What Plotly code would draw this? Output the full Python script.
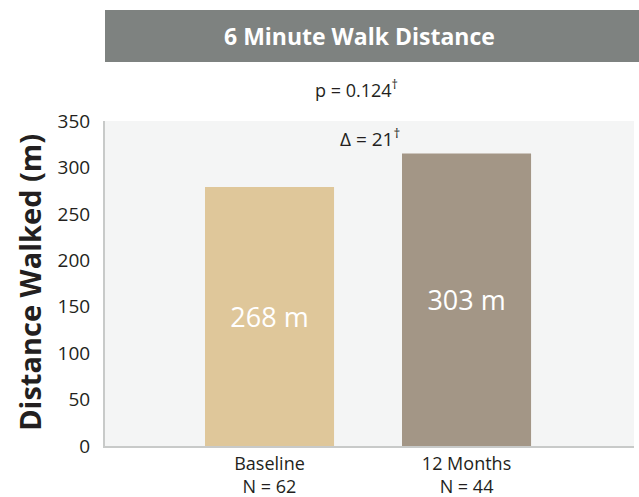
import plotly.graph_objects as go

categories = ["Baseline<br>N = 62", "12 Months<br>N = 44"]
bar_values = [279, 315]
bar_labels = ["268 m", "303 m"]
bar_colors = ["#DFC79A", "#A39686"]
y_ticks = [0, 50, 100, 150, 200, 250, 300, 350]

FONT = "Open Sans"
TXT = "#231F20"
x_pos = [0, 1]

fig = go.Figure()
fig.add_trace(go.Bar(
    x=x_pos, y=bar_values, width=0.655,
    marker=dict(color=bar_colors, line=dict(width=0)),
    text=bar_labels, textposition="inside", insidetextanchor="middle",
    textfont=dict(family=FONT, size=27, color="white"),
    hoverinfo="skip",
))

fig.update_layout(
    width=639, height=497,
    margin=dict(l=105, r=5, t=121, b=51),
    paper_bgcolor="white", plot_bgcolor="#F4F5F5",
    showlegend=False,
    font=dict(family=FONT, color=TXT),
    xaxis=dict(range=[-0.835, 1.85], tickvals=x_pos, ticktext=categories,
               showgrid=False, zeroline=False, showline=True, automargin=False,
               linecolor="#C8CAC9", linewidth=2, ticks="",
               tickfont=dict(family=FONT, size=18, color=TXT)),
    yaxis=dict(range=[0, 350], tickvals=y_ticks, showgrid=False, zeroline=False,
               showline=True, linecolor="#C8CAC9", linewidth=2, ticks="",
               automargin=False, ticklabelstandoff=9,
               tickfont=dict(family=FONT, size=19, color=TXT)),
    shapes=[dict(type="rect", xref="paper", yref="paper",
                 x0=0, x1=1.02, y0=1.1815, y1=1.3415,
                 fillcolor="#7E8280", line=dict(width=0), layer="below")],
    annotations=[
        dict(text="<b>6 Minute Walk Distance</b>", xref="paper", yref="paper",
             x=0.482, y=1.2615, showarrow=False, xanchor="center", yanchor="middle",
             font=dict(family=FONT, size=23, color="white")),
        dict(text="p = 0.124<sup>†</sup>", xref="paper", yref="paper",
             x=0.4745, y=1.098, showarrow=False, xanchor="center", yanchor="middle",
             font=dict(family=FONT, size=18, color=TXT)),
        dict(text="Δ = 21<sup>†</sup>", xref="paper", yref="paper",
             x=0.501, y=0.948, showarrow=False, xanchor="center", yanchor="middle",
             font=dict(family=FONT, size=19, color=TXT)),
        dict(text="<b>Distance Walked (m)</b>", xref="paper", yref="paper",
             x=-0.1418, y=0.505, textangle=-90, showarrow=False,
             xanchor="center", yanchor="middle",
             font=dict(family=FONT, size=29, color=TXT)),
    ],
)

fig.write_html("out.html", config={"displayModeBar": False},
               post_script="document.body.style.margin='0';")
